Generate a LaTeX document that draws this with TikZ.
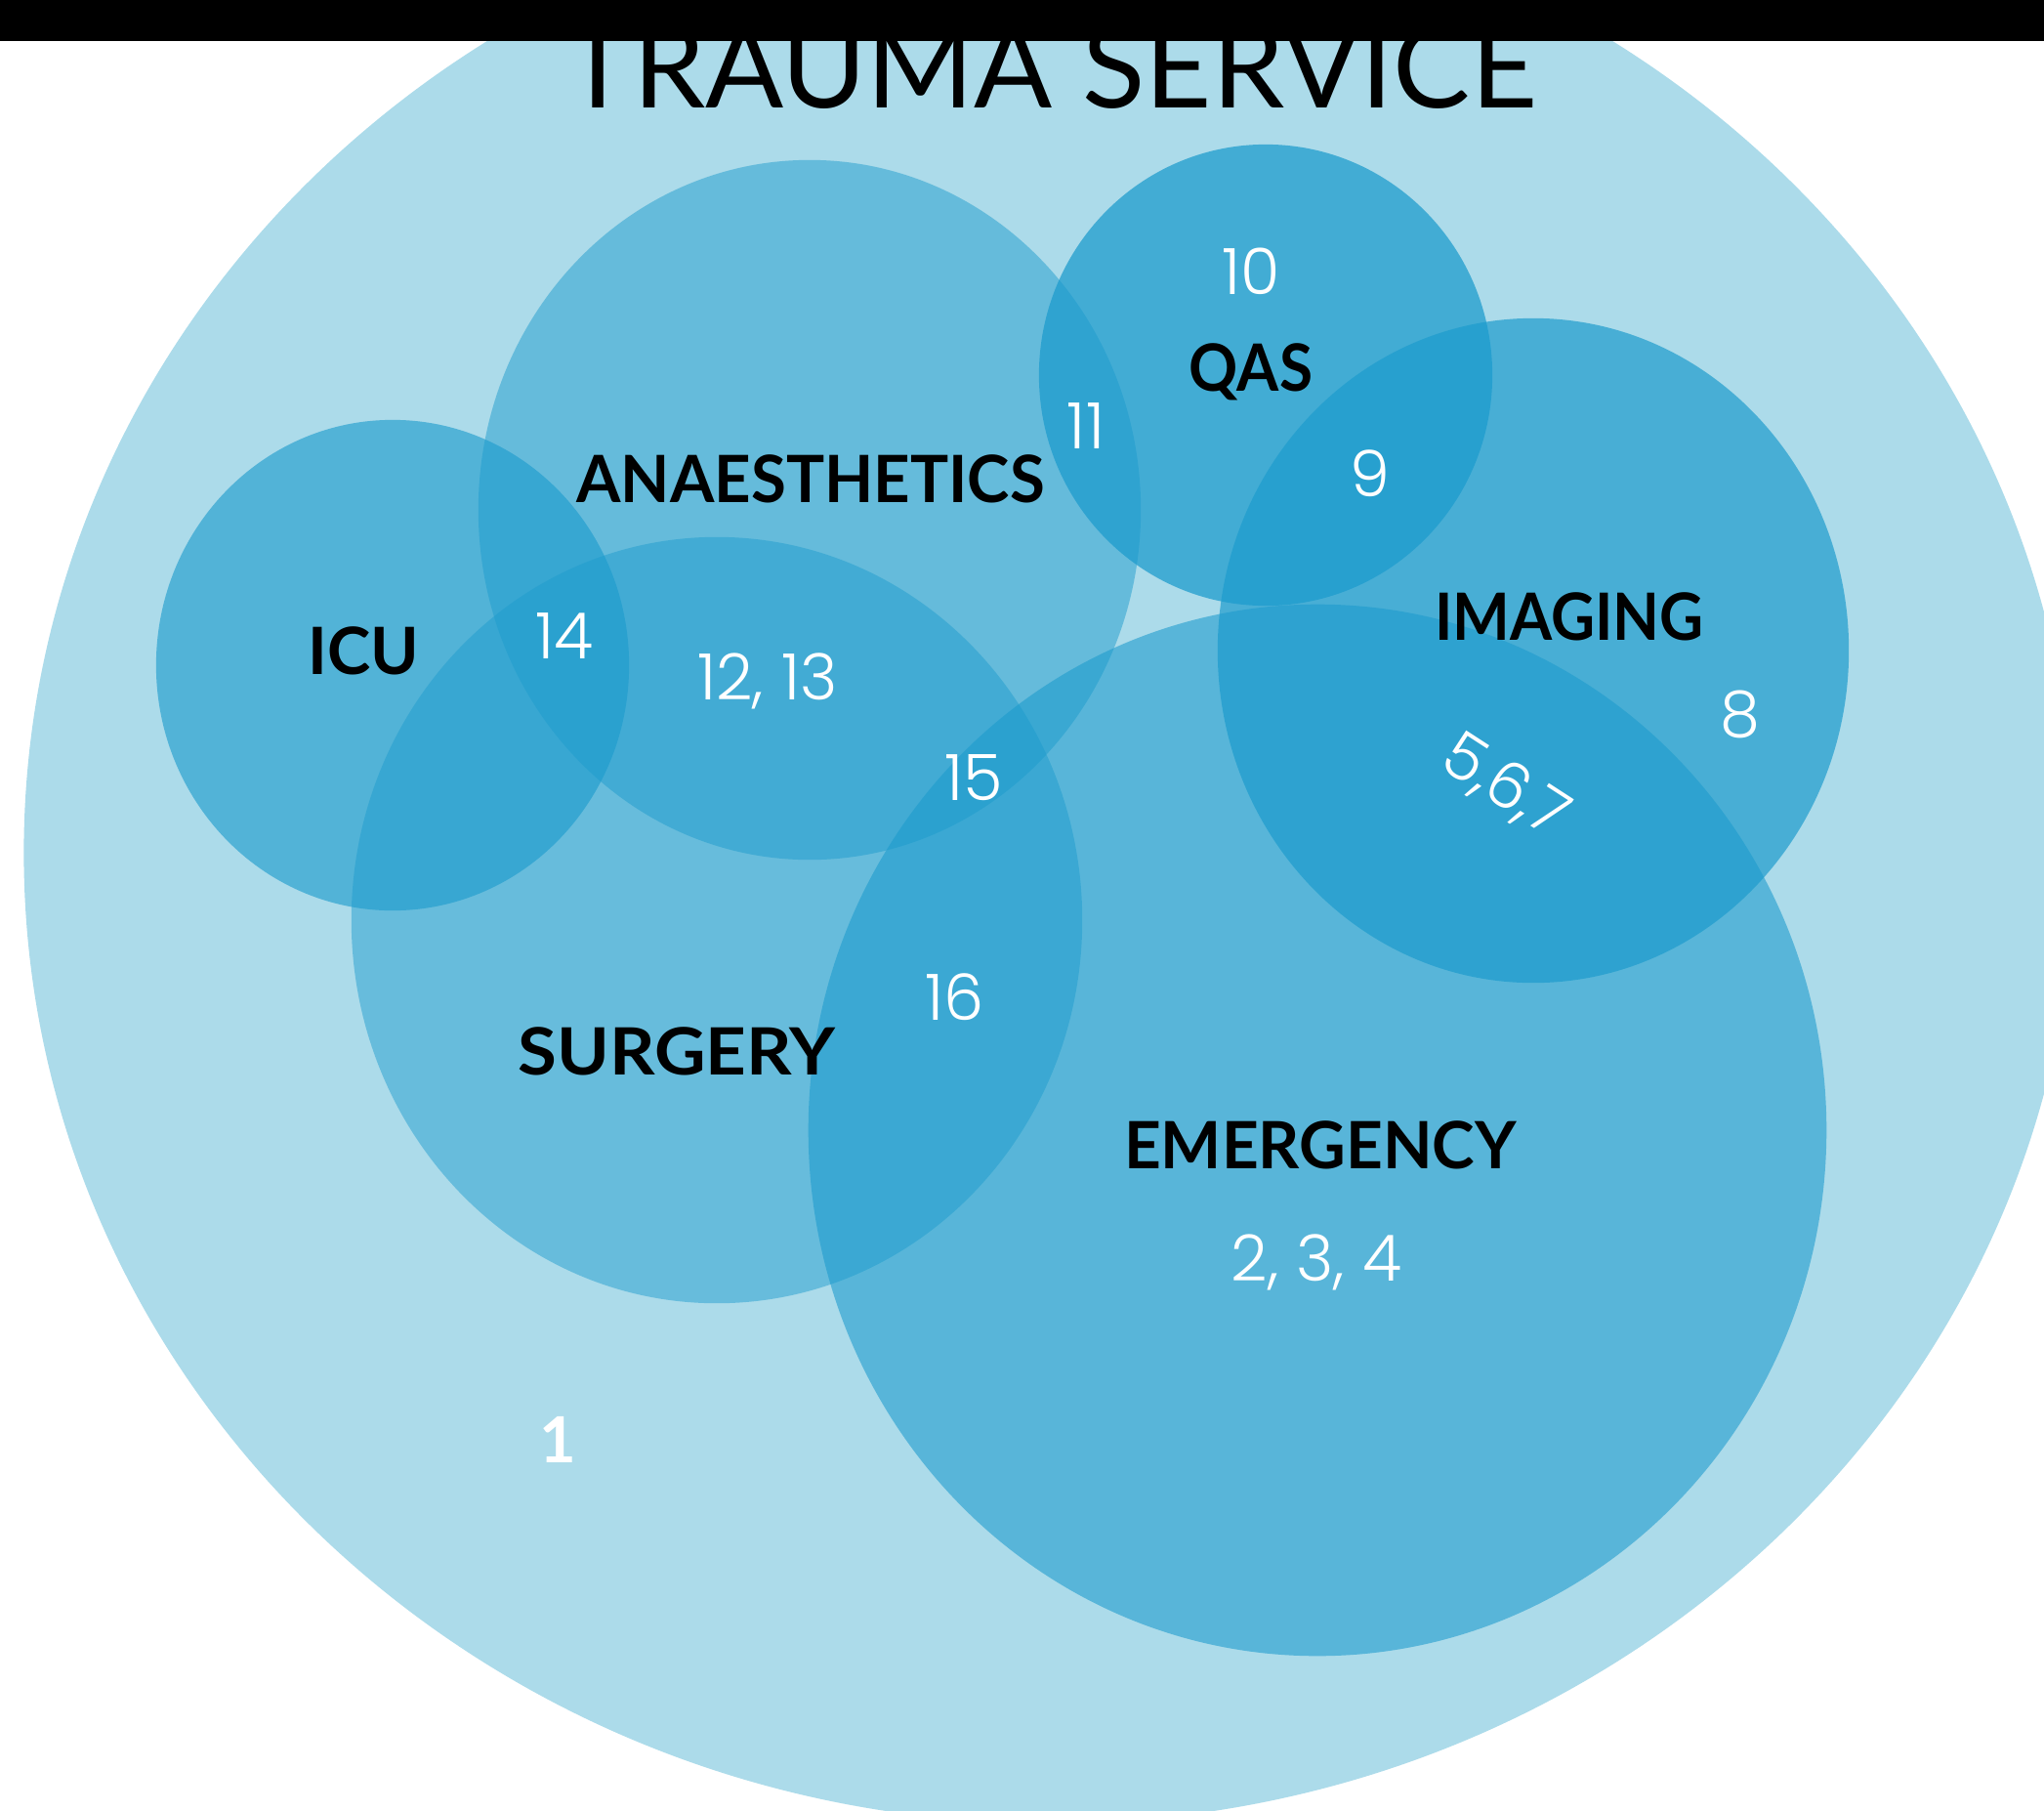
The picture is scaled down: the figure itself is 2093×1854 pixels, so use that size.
\documentclass[tikz,border=0pt]{standalone}
\usepackage{fontspec}
\usetikzlibrary{shapes.geometric}
\setmainfont{Lato}
\newfontfamily\numfont{Poppins Light}
\definecolor{basebg}{RGB}{172,219,234}
\definecolor{ringblue}{RGB}{28,155,205}
\newcommand{\hsquash}[2]{\scalebox{#1}[1]{#2}}
\begin{document}
\begin{tikzpicture}[x=0.01cm,y=-0.01cm]
\tikzset{
  zone/.style={ellipse, fill=ringblue, fill opacity=#1, draw=none, inner sep=0pt},
  dept/.style={font=\bfseries\fontsize{19}{19}\selectfont, text=black, inner sep=0pt, text depth=0pt},
  num/.style={font=\numfont\fontsize{18.6}{19}\selectfont, text=white, inner sep=0pt, text depth=0pt},
}
\useasboundingbox (0,0) rectangle (2093,1854);
\fill[white] (0,0) rectangle (2093,1854);

% the whole trauma service
\begin{scope}
  \clip (0,0) rectangle (2093,1854);
  \fill[basebg] (1075,873) ellipse [x radius=10.50cm, y radius=9.93cm];
\end{scope}

% departments
\node[zone=0.625, minimum width=4.84cm, minimum height=5.02cm] (icu)  at (402,681)  {};
\node[zone=0.49,  minimum width=6.78cm, minimum height=7.16cm] (anae) at (829,522)  {};
\node[zone=0.73,  minimum width=4.64cm, minimum height=4.72cm] (qas)  at (1296,384) {};
\node[zone=0.69,  minimum width=6.46cm, minimum height=6.80cm] (img)  at (1570,666) {};
\node[zone=0.48,  minimum width=7.48cm, minimum height=7.84cm] (surg) at (734,942)  {};
\node[zone=0.58,  minimum width=10.42cm, minimum height=10.76cm] (emer) at (1349,1157) {};

% title and header bar
\node[anchor=base, inner sep=0pt, font=\fontsize{33.7}{34}\selectfont, text=black] (title) at (1076,110) {TRAUMA SERVICE};
\fill[black] (0,0) rectangle (2093,42);

% department names
\node[dept] (lqas)  at (1281,376)  {\hsquash{0.93}{QAS}};
\node[dept] (lanae) at (830,490)   {\hsquash{0.978}{ANAESTHETICS}};
\node[dept] (licu)  at (372,666)   {ICU};
\node[dept] (limg)  at (1607,631)  {\hsquash{0.93}{IMAGING}};
\node[dept] (lsurg) at (693,1076)  {\hsquash{1.085}{SURGERY}};
\node[dept] (lemer) at (1352,1172) {\hsquash{0.984}{EMERGENCY}};

% numbered items
\node[num] (n10)  at (1281,278)  {10};
\node[num] (n11)  at (1112,436)  {11};
\node[num] (n9)   at (1403,485)  {9};
\node[num] (n14)  at (578,651)   {14};
\node[num] (n1213) at (786,693)  {12, 13};
\node[num] (n8)   at (1782,731)  {8};
\node[num, rotate=-33] (n567) at (1543,802) {5,6,7};
\node[num] (n15)  at (997,796)   {15};
\node[num] (n16)  at (978,1021)  {16};
\node[num] (n234) at (1348,1288) {2, 3, 4};
\node[inner sep=0pt, text depth=0pt, text=white, font=\bfseries\fontsize{18.5}{19}\selectfont] (n1) at (571,1474) {1};
\end{tikzpicture}
\end{document}
